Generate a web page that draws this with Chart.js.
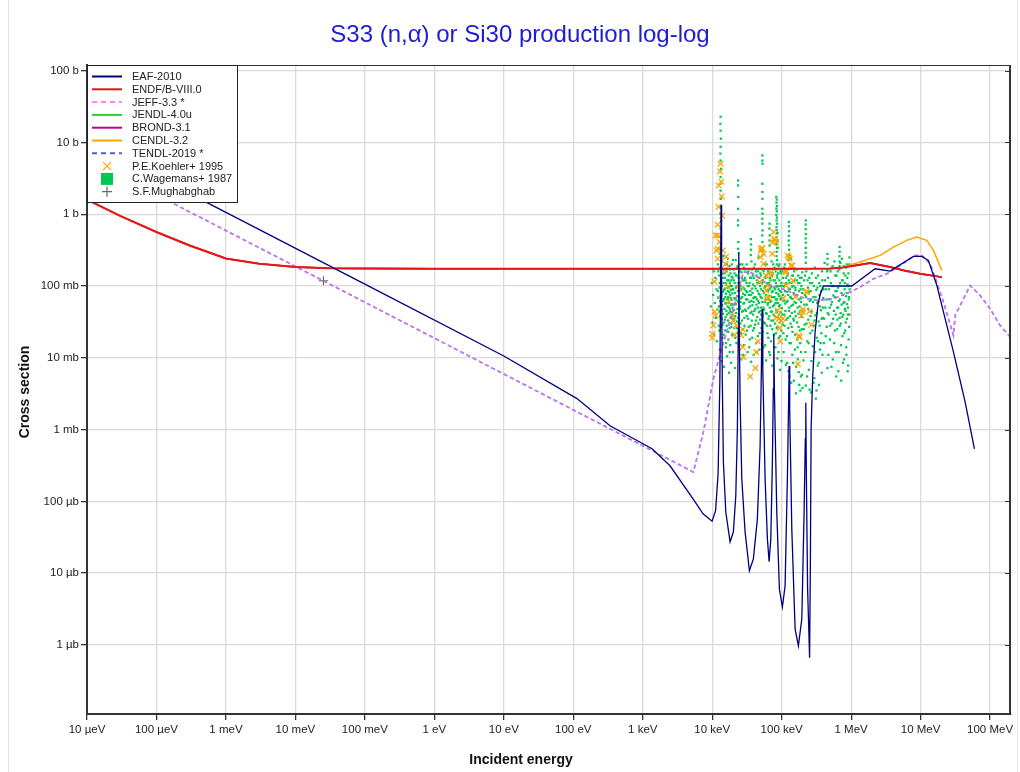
<!DOCTYPE html>
<html>
<head>
<meta charset="utf-8">
<title>S33 (n,α) or Si30 production</title>
<script src="https://cdn.jsdelivr.net/npm/chart.js@4.4.1/dist/chart.umd.min.js"></script>
<style>
  html, body { margin: 0; padding: 0; background: #fff; }
  #wrap { width: 1020px; height: 772px; }
</style>
</head>
<body>
<div id="wrap"><canvas id="xsChart" width="1020" height="772"></canvas></div>
<script>
// energies in eV, cross sections in barns
const eafE = [1e-5, 1e-3, 0.1, 10, 113, 338, 1361, 2470, 5300, 7380, 9950,
  1.118e4, 1.215e4, 1.29e4, 1.32e4, 1.342e4, 1.364e4, 1.396e4, 1.448e4, 1.568e4, 1.808e4,
  2.017e4, 2.184e4, 2.303e4, 2.373e4, 2.413e4, 2.453e4, 2.518e4, 2.665e4, 2.973e4, 3.43e4,
  3.913e4, 4.47e4, 4.89e4, 5.105e4, 5.224e4, 5.347e4, 5.77e4, 6.228e4, 6.59e4, 6.97e4,
  7.35e4, 7.57e4, 7.70e4, 7.85e4, 8.5e4, 9.27e4, 1.024e5, 1.119e5, 1.208e5, 1.253e5,
  1.279e5, 1.304e5, 1.399e5, 1.56e5, 1.74e5, 1.949e5, 2.102e5, 2.188e5, 2.224e5, 2.269e5,
  2.361e5, 2.523e5, 2.591e5, 2.652e5, 2.787e5, 3.028e5, 3.344e5, 3.573e5, 3.987e5, 1.022e6,
  2.213e6, 3.64e6, 7.87e6, 1.04e7, 1.295e7, 1.711e7, 2.966e7, 4.37e7, 5.95e7];
const eafXS = [10.6, 1.06, 0.106, 0.0106, 2.7e-3, 1.13e-3, 5.4e-4, 3.13e-4, 1.08e-4, 6.7e-5, 5.3e-5,
  7.4e-5, 2.42e-4, 5.1e-3, 0.126, 1.35, 0.126, 5.1e-3, 3.56e-4, 7.1e-5, 2.73e-5,
  3.76e-5, 1.19e-4, 1.03e-3, 0.0254, 0.29, 0.0254, 2.68e-3, 2.06e-4, 3.76e-5, 1.08e-5,
  1.58e-5, 5.7e-5, 5.9e-4, 7.0e-3, 0.048, 7.0e-3, 2.06e-4, 3.0e-5, 1.44e-5, 3.0e-5,
  3.56e-4, 3.7e-3, 0.0216, 3.7e-3, 7.1e-5, 6.0e-6, 3.4e-6, 6.6e-6, 2.06e-4, 1.95e-3,
  7.7e-3, 1.95e-3, 4.1e-5, 1.67e-6, 9.7e-7, 2.31e-6, 7.1e-5, 7.4e-4, 2.36e-3, 2.06e-4,
  6.0e-6, 6.6e-7, 1.58e-5, 1.03e-3, 5.1e-3, 0.023, 0.0566, 0.0755, 0.1, 0.1,
  0.174, 0.161, 0.258, 0.258, 0.227, 0.102, 0.0121, 2.44e-3, 5.4e-4];

const endfE = [1e-5, 3e-5, 1e-4, 3e-4, 1e-3, 3e-3, 1e-2, 3e-2, 0.1, 1, 1e3, 1e5, 5e5, 7e5,
  1.2e6, 1.875e6, 3.64e6, 6e6, 9.84e6, 2.02e7];
const endfXS = [1.6, 0.95, 0.565, 0.367, 0.242, 0.205, 0.184, 0.177, 0.175, 0.174, 0.174, 0.174, 0.175, 0.179,
  0.195, 0.209, 0.184, 0.163, 0.148, 0.133];

const cendlE = [1e-5, 3e-5, 1e-4, 3e-4, 1e-3, 3e-3, 1e-2, 3e-2, 0.1, 1, 1e3, 1e5, 5e5, 7e5,
  1.345e6, 2.61e6, 4.06e6, 6.32e6, 8.81e6, 1.228e7, 1.528e7, 2.02e7];
const cendlXS = [1.6, 0.95, 0.565, 0.367, 0.242, 0.205, 0.184, 0.177, 0.175, 0.174, 0.174, 0.174, 0.175, 0.179,
  0.216, 0.267, 0.349, 0.432, 0.481, 0.432, 0.313, 0.165];

// JEFF-3.3 and TENDL-2019 lie on top of each other
const jeffE = [1e-5, 0.0253, 1, 100, 1361, 5360, 7464, 1.04e4, 1.373e4, 2.017e4, 2.81e4, 3.51e4,
  6.11e4, 1.185e5, 1.84e5, 3.2e5, 5.56e5, 9.66e5, 1.345e6, 2.09e6, 3.26e6, 5.07e6, 8.34e6,
  1.04e7, 1.37e7, 1.71e7, 2.13e7, 2.97e7, 3.14e7, 3.71e7, 5.16e7, 7.19e7, 1e8, 1.393e8, 2e8];
const jeffXS = [5.9, 0.118, 0.0188, 1.88e-3, 5.1e-4, 2.56e-4, 9.2e-4, 5.1e-3, 0.0134, 0.048, 0.156, 0.158,
  0.107, 0.0867, 0.0702, 0.063, 0.0664, 0.0824, 0.0966, 0.126, 0.148, 0.193, 0.267,
  0.267, 0.204, 0.1135, 0.0597, 0.0205, 0.0389, 0.0536, 0.102, 0.0738, 0.0482, 0.0282, 0.019];
const tendlE = jeffE;
const tendlXS = jeffXS;

// experimental points: [energy keV, cross section b]
const koehler = [[13.2,5.06],[13.0,3.95],[13.5,2.84],[12.4,2.52],[13.7,1.77],[12.3,1.27],[13.9,0.953],
  [12.0,0.714],[12.0,0.507],[12.7,0.414],[14.2,0.313],[11.6,0.313],[15.9,0.256],[12.0,0.24],[15.5,0.204],
  [15.0,0.165],[10.8,0.115],[16.8,0.0977],[24.7,0.0916],[17.3,0.0603],[10.8,0.0438],[11.2,0.0389],
  [19.4,0.0389],[10.4,0.0282],[19.8,0.0331],[10.1,0.0216],[10.0,0.019],[22.2,0.0282],[27.6,0.0248],
  [26.2,0.0205],[20.9,0.0209],[27.6,0.0141],[28.2,0.0102],[43.0,0.012],[35.3,0.00548],[42.0,0.00718],
  [45.3,0.0169],[50.7,0.313],[52.5,0.338],[54.8,0.281],[54.8,0.204],[49.5,0.253],[48.0,0.1135],
  [58.5,0.14],[63.1,0.102],[59.8,0.0867],[65.3,0.068],[61.1,0.0664],[76.3,0.565],[78.9,0.456],
  [83.5,0.41],[73.1,0.281],[70.7,0.156],[69.1,0.14],[88.0,0.0456],[90.9,0.035],[98.5,0.0331],
  [85.1,0.0369],[93.1,0.0259],[95.3,0.0169],[112,0.16],[122,0.267],[130,0.24],[137,0.193],[116,0.102],
  [106,0.068],[145,0.119],[158,0.0702],[177,0.0205],[171,0.0082],[191,0.0389],[201,0.0471],[230,0.084],
  [252,0.0442],[266,0.0288],[11.2,0.507],[12.0,0.331],[50.7,0.331],[73.1,0.41],[78.9,0.431],[127,0.253],
  [142,0.193],[116,0.156],[225,0.0824],[104,0.035],[181,0.0194],[201,0.0434]];

const wagemans = [
  // tall resonance columns
  [13.2,22.8],[13.1,18.2],[13.2,14.6],[13.3,11.3],[13.2,8.7],[13.1,7.0],[13.2,5.6],[13.3,4.3],[13.2,3.3],
  [13.1,2.66],[13.2,2.13],[13.3,1.64],[13.2,1.27],[13.0,1.02],[13.4,0.81],[13.2,0.63],[13.0,0.486],
  [13.3,0.388],[13.1,0.33],[12.9,0.281],[13.5,0.24],
  [23.6,2.95],[23.6,2.52],[23.7,1.74],[23.6,1.19],[23.5,0.82],[23.6,0.70],[23.7,0.41],[23.6,0.33],
  [36,0.45],[36.2,0.38],[36.1,0.32],[35.9,0.27],
  [52.8,6.6],[52.8,5.6],[53,5.06],[52.6,2.66],[52.9,2.04],[52.8,1.64],[52.7,1.19],[53,1.02],[52.6,0.865],
  [52.8,0.74],[53.1,0.595],[52.5,0.507],[52.9,0.41],[53.2,0.313],[52.4,0.267],
  [67,0.74],[66.5,0.63],[67.2,0.507],[66.8,0.431],[67,0.367],
  [83.5,1.74],[85,1.6],[84,1.45],[85.5,1.3],[84,1.2],[85,1.1],[83.5,0.98],[85.5,0.9],[84.5,0.82],[86,0.74],
  [84,0.66],[85,0.6],[86,0.54],[84.5,0.48],[85.5,0.43],[84,0.38],[86,0.34],[85,0.3],[84.5,0.26],[86,0.23],
  [85,0.2],[87,0.55],[87.5,0.42],[88,0.34],
  [127,0.78],[127,0.68],[128,0.58],[127,0.5],[126,0.43],[127,0.37],[128,0.32],[127,0.27],[126,0.23],
  [222,0.82],[221,0.72],[222,0.62],[223,0.53],[221,0.46],[222,0.4],[222,0.34],[221,0.29],[223,0.25],[222,0.21],
  [455,0.28],[457,0.24],[456,0.2],[458,0.17],
  [680,0.35],[682,0.3],[679,0.26],[681,0.22],[680,0.19],
  // main cloud
  [9.6,0.052],[9.9,0.11],[10.1,0.031],[10.3,0.075],[10.5,0.16],[10.7,0.021],[10.9,0.058],[11.1,0.13],
  [11.3,0.036],[11.5,0.09],[11.7,0.017],[11.9,0.047],[12.1,0.2],[12.2,0.069],[12.4,0.028],
  [12.6,0.14],[12.7,0.044],[12.8,0.095],[12.9,0.013],[13.0,0.18],[13.1,0.062],[13.3,0.027],[13.4,0.12],
  [13.5,0.075],[13.6,0.009],[13.7,0.22],[13.8,0.035],[13.9,0.054],[14.0,0.15],[14.1,0.019],[14.2,0.083],
  [14.3,0.041],[14.4,0.26],[14.5,0.11],[14.6,0.031],[14.7,0.066],[14.8,0.0075],[14.9,0.17],[15.0,0.048],
  [15.1,0.092],[15.2,0.024],[15.3,0.13],[15.4,0.057],[15.5,0.2],[15.6,0.037],[15.7,0.014],[15.8,0.078],
  [15.9,0.105],[16.0,0.045],[16.1,0.16],[16.2,0.028],[16.3,0.065],[16.4,0.0105],[16.5,0.12],[16.6,0.052],
  [16.7,0.085],[16.8,0.24],[16.9,0.033],[17.0,0.07],[17.1,0.018],[17.2,0.14],[17.3,0.042],[17.4,0.098],
  [17.5,0.0062],[17.6,0.058],[17.7,0.19],[17.8,0.026],[17.9,0.11],[18.0,0.047],[18.1,0.075],[18.2,0.015],
  [18.3,0.15],[18.4,0.036],[18.5,0.088],[18.6,0.055],[18.7,0.0085],[18.8,0.12],[18.9,0.03],[19.0,0.064],
  [19.1,0.2],[19.2,0.043],[19.3,0.1],[19.4,0.021],[19.5,0.079],[19.6,0.05],[19.7,0.13],[19.8,0.012],[19.9,0.035],
  [20.1,0.09],[20.3,0.17],[20.5,0.046],[20.7,0.026],[20.9,0.068],[21.1,0.11],[21.3,0.0072],[21.5,0.038],
  [21.7,0.23],[21.9,0.056],[22.1,0.095],[22.3,0.016],[22.5,0.14],[22.7,0.032],[22.9,0.072],[23.1,0.048],
  [23.3,0.19],[23.5,0.022],[23.7,0.11],[23.9,0.06],[24.1,0.29],[24.3,0.04],[24.5,0.085],[24.7,0.013],
  [24.9,0.16],[25.1,0.052],[25.4,0.03],[25.7,0.1],[26.0,0.067],[26.3,0.0095],[26.6,0.13],[26.9,0.044],
  [27.2,0.2],[27.5,0.025],[27.8,0.078],[28.1,0.057],[28.4,0.015],[28.7,0.12],[29.0,0.036],[29.3,0.09],
  [29.6,0.047],[29.9,0.17],
  [30.3,0.021],[30.7,0.065],[31.1,0.11],[31.5,0.038],[31.9,0.082],[32.3,0.012],[32.7,0.15],[33.1,0.049],
  [33.5,0.027],[33.9,0.1],[34.3,0.06],[34.7,0.018],[35.1,0.13],[35.5,0.042],[35.9,0.075],[36.3,0.0088],
  [36.7,0.22],[37.1,0.033],[37.5,0.092],[37.9,0.054],[38.3,0.14],[38.7,0.024],[39.1,0.068],[39.5,0.011],
  [39.9,0.18],[40.4,0.045],[40.9,0.1],[41.4,0.029],[41.9,0.07],[42.4,0.16],[42.9,0.016],[43.4,0.055],
  [43.9,0.12],[44.4,0.037],[44.9,0.085],[45.4,0.02],[45.9,0.062],[46.4,0.25],[46.9,0.043],[47.4,0.11],
  [47.9,0.013],[48.4,0.076],[48.9,0.034],[49.4,0.15],[49.9,0.05],
  [50.5,0.09],[51.2,0.026],[51.9,0.17],[52.6,0.06],[53.3,0.039],[54.0,0.12],[54.7,0.014],[55.4,0.08],
  [56.1,0.047],[56.8,0.2],[57.5,0.03],[58.2,0.1],[58.9,0.066],[59.6,0.0092],[60.3,0.14],[61.0,0.041],
  [61.7,0.088],[62.4,0.022],[63.1,0.058],[63.8,0.16],[64.5,0.035],[65.2,0.11],[65.9,0.012],[66.6,0.073],
  [67.3,0.05],[68.0,0.13],[68.7,0.028],[69.4,0.095],[70.1,0.017],[70.8,0.062],[71.5,0.22],[72.2,0.044],
  [72.9,0.082],[73.6,0.0078],[74.3,0.15],[75.0,0.033],[75.8,0.07],[76.6,0.12],[77.4,0.021],[78.2,0.054],
  [79.0,0.18],[79.8,0.038],[80.6,0.09],[81.4,0.014],[82.2,0.065],[83.0,0.11],[83.8,0.046],[84.6,0.026],
  [85.4,0.14],[86.2,0.058],[87.0,0.0098],[87.8,0.1],[88.6,0.036],[89.4,0.077],[90.2,0.19],[91.0,0.019],
  [91.8,0.052],[92.6,0.12],[93.4,0.031],[94.2,0.085],[95.0,0.0068],[95.8,0.16],[96.6,0.043],[97.4,0.067],
  [98.2,0.024],[99.0,0.11],
  [100.5,0.049],[102,0.16],[103.5,0.029],[105,0.075],[106.5,0.012],[108,0.1],[109.5,0.04],[111,0.2],
  [112.5,0.057],[114,0.018],[115.5,0.13],[117,0.034],[118.5,0.083],[120,0.0085],[121.5,0.062],[123,0.15],
  [124.5,0.026],[126,0.092],[127.5,0.045],[129,0.0055],[130.5,0.11],[132,0.038],[133.5,0.07],[135,0.016],
  [136.5,0.24],[138,0.053],[139.5,0.027],[141,0.098],[142.5,0.011],[144,0.066],[145.5,0.14],[147,0.035],
  [148.5,0.08],[150,0.0048],[152,0.12],[154,0.044],[156,0.021],[158,0.088],[160,0.058],[162,0.0075],
  [164,0.17],[166,0.031],[168,0.074],[170,0.014],[172,0.11],[174,0.041],[176,0.0063],[178,0.085],
  [180,0.052],[182,0.024],[184,0.13],[186,0.0035],[188,0.067],[190,0.012],[192,0.1],[194,0.037],
  [196,0.0058],[198,0.155],
  [202,0.047],[206,0.0092],[210,0.12],[214,0.029],[218,0.075],[222,0.0041],[226,0.16],[230,0.055],
  [234,0.017],[238,0.095],[242,0.034],[246,0.0068],[250,0.13],[254,0.062],[258,0.022],[262,0.085],
  [266,0.0033],[270,0.044],[275,0.11],[280,0.0145],[285,0.07],[290,0.028],[295,0.0052],[300,0.18],
  [305,0.039],[310,0.0027],[315,0.088],[320,0.019],[325,0.058],[330,0.0078],[335,0.14],[340,0.032],
  [345,0.0042],[350,0.075],[355,0.013],[360,0.1],[366,0.046],[372,0.022],[378,0.0062],[384,0.12],
  [390,0.036],[396,0.068],
  [405,0.016],[415,0.21],[425,0.05],[435,0.09],[445,0.027],[455,0.0072],[465,0.13],[475,0.04],
  [485,0.065],[495,0.018],[505,0.16],[515,0.055],[525,0.03],[535,0.1],[545,0.0095],[555,0.074],
  [565,0.045],[575,0.22],[585,0.024],[595,0.085],[605,0.012],[615,0.14],[625,0.05],[635,0.034],
  [645,0.095],[655,0.0065],[665,0.062],[675,0.17],[685,0.028],[695,0.11],[705,0.042],[715,0.015],
  [725,0.08],[735,0.24],[745,0.037],[755,0.12],[765,0.0085],[775,0.058],[785,0.19],[795,0.022],
  [805,0.09],[815,0.048],[825,0.14],[835,0.031],[845,0.072],[855,0.011],[865,0.2],[875,0.056],
  [885,0.105],[895,0.04],[905,0.0078],[915,0.15],[925,0.065],[935,0.027],[945,0.25],[950,0.09],
  // second pass through the cloud
  [12.05,0.085],[12.25,0.16],[12.45,0.052],[12.65,0.024],[12.85,0.11],[13.05,0.038],[13.25,0.072],[13.45,0.17],
  [13.65,0.046],[13.85,0.1],[14.05,0.029],[14.25,0.13],[14.45,0.062],[14.65,0.021],[14.85,0.088],[15.05,0.15],
  [15.25,0.034],[15.45,0.07],[15.65,0.11],[15.85,0.016],[16.05,0.058],[16.25,0.2],[16.45,0.04],[16.65,0.095],
  [16.85,0.065],[17.05,0.023],[17.25,0.12],[17.45,0.05],[17.65,0.082],[17.85,0.012],[18.05,0.17],[18.25,0.044],
  [18.45,0.068],[18.65,0.1],[18.85,0.027],[19.05,0.135],[19.25,0.056],[19.45,0.039],[19.65,0.09],[19.85,0.23],
  [20.2,0.055],[20.45,0.12],[20.7,0.034],[20.95,0.15],[21.2,0.08],[21.45,0.019],[21.7,0.065],[21.95,0.14],
  [22.2,0.042],[22.45,0.1],[22.7,0.026],[22.95,0.18],[23.2,0.062],[23.45,0.085],[23.7,0.036],[23.95,0.13],
  [24.2,0.017],[24.45,0.072],[24.7,0.11],[24.95,0.048],[25.25,0.2],[25.55,0.06],[25.85,0.022],[26.15,0.09],
  [26.45,0.155],[26.75,0.033],[27.05,0.07],[27.35,0.12],[27.65,0.045],[27.95,0.011],[28.25,0.095],[28.55,0.18],
  [28.85,0.058],[29.15,0.028],[29.45,0.13],[29.75,0.075],
  [30.1,0.12],[30.5,0.045],[30.9,0.085],[31.3,0.2],[31.7,0.024],[32.1,0.065],[32.5,0.1],[32.9,0.035],
  [33.3,0.16],[33.7,0.075],[34.1,0.014],[34.5,0.11],[34.9,0.052],[35.3,0.085],[35.7,0.028],[36.1,0.13],
  [36.5,0.062],[36.9,0.044],[37.3,0.17],[37.7,0.019],[38.1,0.08],[38.5,0.105],[38.9,0.04],[39.3,0.06],
  [39.7,0.13],[40.2,0.026],[40.7,0.07],[41.2,0.2],[41.7,0.048],[42.2,0.092],[42.7,0.033],[43.2,0.14],
  [43.7,0.066],[44.2,0.012],[44.7,0.11],[45.2,0.05],[45.7,0.16],[46.2,0.03],[46.7,0.078],[47.2,0.058],
  [47.7,0.13],[48.2,0.022],[48.7,0.1],[49.2,0.045],[49.7,0.07],
  [50.2,0.14],[50.9,0.04],[51.6,0.068],[52.3,0.11],[53.0,0.023],[53.7,0.085],[54.4,0.05],[55.1,0.16],
  [55.8,0.031],[56.5,0.095],[57.2,0.06],[57.9,0.015],[58.6,0.13],[59.3,0.042],[60.0,0.075],[60.7,0.2],
  [61.4,0.028],[62.1,0.11],[62.8,0.055],[63.5,0.085],[64.2,0.019],[64.9,0.065],[65.6,0.15],[66.3,0.038],
  [67.0,0.09],[67.7,0.011],[68.4,0.06],[69.1,0.12],[69.8,0.044],[70.5,0.1],[71.2,0.033],[71.9,0.07],
  [72.6,0.14],[73.3,0.025],[74.0,0.085],[74.7,0.052],[75.4,0.2],[76.2,0.04],[77.0,0.095],[77.8,0.014],
  [78.6,0.07],[79.4,0.12],[80.2,0.03],[81.0,0.058],[81.8,0.16],[82.6,0.022],[83.4,0.08],[84.2,0.1],
  [85.0,0.043],[85.8,0.065],[86.6,0.13],[87.4,0.027],[88.2,0.058],[89.0,0.15],[89.8,0.012],[90.6,0.09],
  [91.4,0.04],[92.2,0.072],[93.0,0.2],[93.8,0.054],[94.6,0.02],[95.4,0.1],[96.2,0.065],[97.0,0.15],
  [97.8,0.037],[98.6,0.083],[99.4,0.009],
  [101,0.1],[102.8,0.04],[104.2,0.13],[105.8,0.022],[107.2,0.062],[108.8,0.18],[110.2,0.028],[111.8,0.085],
  [113.2,0.045],[114.8,0.008],[116.2,0.11],[117.8,0.06],[119.2,0.02],[120.8,0.14],[122.2,0.036],[123.8,0.075],
  [125.2,0.0065],[126.8,0.12],[128.2,0.05],[129.8,0.016],[131.2,0.09],[132.8,0.2],[134.2,0.03],[135.8,0.068],
  [137.2,0.0045],[138.8,0.11],[140.2,0.042],[141.8,0.14],[143.2,0.023],[144.8,0.055],[146.2,0.0085],[147.8,0.1],
  [149.2,0.033],[151,0.16],[153,0.06],[155,0.013],[157,0.095],[159,0.038],[161,0.0032],[163,0.075],
  [165,0.12],[167,0.018],[169,0.05],[171,0.0095],[173,0.14],[175,0.027],[177,0.065],[179,0.0042],
  [181,0.11],[183,0.044],[185,0.016],[187,0.09],[189,0.0055],[191,0.06],[193,0.13],[195,0.025],
  [197,0.08],[199,0.0038],
  [204,0.09],[208,0.025],[212,0.055],[216,0.14],[220,0.012],[224,0.07],[228,0.03],[232,0.0055],
  [236,0.12],[240,0.048],[244,0.016],[248,0.082],[252,0.0036],[256,0.11],[260,0.038],[264,0.065],
  [268,0.009],[272,0.15],[277,0.024],[282,0.06],[287,0.0045],[292,0.1],[297,0.033],[302,0.012],
  [307,0.07],[312,0.13],[317,0.0035],[322,0.042],[327,0.095],[332,0.017],[337,0.06],[342,0.0085],
  [347,0.11],[352,0.028],[357,0.052],[363,0.016],[369,0.085],[375,0.035],[381,0.16],[387,0.011],
  [393,0.05],[399,0.09],
  [410,0.035],[420,0.12],[430,0.02],[440,0.065],[450,0.16],[460,0.042],[470,0.011],[480,0.09],
  [490,0.05],[500,0.028],[510,0.11],[520,0.0075],[530,0.06],[540,0.19],[550,0.035],[560,0.1],
  [570,0.016],[580,0.07],[590,0.14],[600,0.04],[610,0.0055],[620,0.085],[630,0.025],[640,0.16],
  [650,0.05],[660,0.012],[670,0.1],[680,0.036],[690,0.065],[700,0.21],[710,0.03],[720,0.0048],
  [730,0.055],[740,0.12],[750,0.02],[760,0.075],[770,0.04],[780,0.15],[790,0.0095],[800,0.06],
  [810,0.11],[820,0.024],[830,0.045],[840,0.18],[850,0.014],[860,0.08],[870,0.035],[880,0.13],
  [890,0.0065],[900,0.05],[910,0.1],[920,0.018],[930,0.07],[940,0.2],[948,0.04]
];

const mughabghab = [[0.0253, 0.118]]; // eV, b

const xTickValues = [1e-5, 1e-4, 1e-3, 1e-2, 1e-1, 1, 10, 100, 1e3, 1e4, 1e5, 1e6, 1e7, 1e8];
const xTickLabels = ['10 µeV', '100 µeV', '1 meV', '10 meV', '100 meV', '1 eV', '10 eV', '100 eV',
  '1 keV', '10 keV', '100 keV', '1 MeV', '10 MeV', '100 MeV'];
const yTickValues = [1e-6, 1e-5, 1e-4, 1e-3, 1e-2, 1e-1, 1, 10, 100];
const yTickLabels = ['1 µb', '10 µb', '100 µb', '1 mb', '10 mb', '100 mb', '1 b', '10 b', '100 b'];

const FONT = '"Liberation Sans", Arial, Helvetica, sans-serif';

function toPoints(es, xs) {
  return es.map((e, i) => ({ x: e, y: xs[i] }));
}

function pairPoints(list, scale) {
  return list.map(p => ({ x: p[0] * scale, y: p[1] }));
}

function lineSet(label, es, xs, color, width, order, extra) {
  return Object.assign({
    label: label,
    data: toPoints(es, xs),
    showLine: true,
    borderColor: color,
    backgroundColor: color,
    borderWidth: width,
    pointRadius: 0,
    order: order,
    legendColor: color,
    legendKind: 'line'
  }, extra || {});
}

// draws frame, titles and the boxed legend in the upper left corner
const decorPlugin = {
  id: 'decor',
  afterDraw(chart) {
    const ctx = chart.ctx;
    const a = chart.chartArea;
    ctx.save();

    // faint page edges
    ctx.strokeStyle = '#e4e4e4';
    ctx.lineWidth = 1;
    ctx.beginPath();
    ctx.moveTo(8.5, 0); ctx.lineTo(8.5, chart.height);
    ctx.moveTo(1017.5, 0); ctx.lineTo(1017.5, chart.height);
    ctx.stroke();

    ctx.strokeStyle = '#333';
    ctx.lineWidth = 1;
    ctx.beginPath();
    ctx.moveTo(a.left, a.top + 0.5);
    ctx.lineTo(a.right, a.top + 0.5);
    ctx.stroke();
    ctx.lineWidth = 2;
    ctx.beginPath();
    ctx.moveTo(a.right - 1, a.top);
    ctx.lineTo(a.right - 1, a.bottom);
    ctx.stroke();
    ctx.lineWidth = 1;
    const ys = chart.scales.y;
    yTickValues.forEach(v => {
      const py = Math.round(ys.getPixelForValue(v)) + 0.5;
      ctx.beginPath();
      ctx.moveTo(a.right - 6, py);
      ctx.lineTo(a.right, py);
      ctx.stroke();
    });

    // chart title and axis titles
    ctx.fillStyle = '#1c1cd4';
    ctx.font = '24px ' + FONT;
    ctx.textAlign = 'center';
    ctx.textBaseline = 'alphabetic';
    ctx.fillText('S33 (n,α) or Si30 production log-log', 520, 42);

    ctx.fillStyle = '#111';
    ctx.font = 'bold 14px ' + FONT;
    ctx.fillText('Incident energy', 521, 764);
    ctx.save();
    ctx.translate(25, 392);
    ctx.rotate(-Math.PI / 2);
    ctx.textBaseline = 'middle';
    ctx.fillText('Cross section', 0, 0);
    ctx.restore();

    // legend
    const bx = 87, by = 65, bw = 150, bh = 137;
    ctx.fillStyle = '#fff';
    ctx.fillRect(bx, by, bw, bh);
    ctx.strokeStyle = '#222';
    ctx.lineWidth = 1;
    ctx.strokeRect(bx + 0.5, by + 0.5, bw, bh);

    ctx.font = '11px ' + FONT;
    ctx.textAlign = 'left';
    ctx.textBaseline = 'middle';
    chart.data.datasets.forEach((ds, i) => {
      const y = 76.5 + i * 12.8;
      const cx = 107;
      ctx.strokeStyle = ds.legendColor;
      ctx.fillStyle = ds.legendColor;
      if (ds.legendKind === 'line' || ds.legendKind === 'dash') {
        ctx.lineWidth = 2;
        ctx.setLineDash(ds.legendKind === 'dash' ? [5, 4] : []);
        ctx.beginPath();
        ctx.moveTo(92, y);
        ctx.lineTo(122, y);
        ctx.stroke();
        ctx.setLineDash([]);
      } else if (ds.legendKind === 'x') {
        ctx.lineWidth = 1.3;
        ctx.beginPath();
        ctx.moveTo(cx - 4, y - 4); ctx.lineTo(cx + 4, y + 4);
        ctx.moveTo(cx - 4, y + 4); ctx.lineTo(cx + 4, y - 4);
        ctx.stroke();
      } else if (ds.legendKind === 'square') {
        ctx.fillRect(cx - 6, y - 6, 12, 12);
      } else if (ds.legendKind === 'plus') {
        ctx.lineWidth = 1.2;
        ctx.beginPath();
        ctx.moveTo(cx - 5, y); ctx.lineTo(cx + 5, y);
        ctx.moveTo(cx, y - 5); ctx.lineTo(cx, y + 5);
        ctx.stroke();
      }
      ctx.fillStyle = '#222';
      ctx.fillText(ds.label, 132, y + 0.5);
    });
    ctx.restore();
  }
};

const datasets = [
  lineSet('EAF-2010', eafE, eafXS, '#000080', 1.3, 1),
  lineSet('ENDF/B-VIII.0', endfE, endfXS, '#e8141c', 2, 2),
  lineSet('JEFF-3.3 *', jeffE, jeffXS, 'rgba(255,115,255,0.75)', 1.5, 3,
    { borderDash: [4, 3], legendColor: '#ff80ff', legendKind: 'dash' }),
  lineSet('JENDL-4.0u', endfE, endfXS, '#33cc33', 1.4, 7),
  lineSet('BROND-3.1', endfE, endfXS, '#c0008c', 1.4, 6),
  lineSet('CENDL-3.2', cendlE, cendlXS, '#ffa500', 1.5, 5),
  lineSet('TENDL-2019 *', tendlE, tendlXS, '#4a5fe0', 1.5, 4,
    { borderDash: [4, 3], legendKind: 'dash' }),
  {
    label: 'P.E.Koehler+ 1995',
    data: pairPoints(koehler, 1e3),
    showLine: false,
    pointStyle: 'crossRot',
    pointRadius: 4,
    borderColor: '#ffa500',
    backgroundColor: '#ffa500',
    pointBorderWidth: 1.3,
    order: 8,
    legendColor: '#ffa500',
    legendKind: 'x'
  },
  {
    label: 'C.Wagemans+ 1987',
    data: pairPoints(wagemans, 1e3),
    showLine: false,
    pointStyle: 'rect',
    pointRadius: 1.6,
    pointBorderWidth: 0,
    borderColor: '#00c850',
    backgroundColor: '#00c850',
    order: 10,
    legendColor: '#00c853',
    legendKind: 'square'
  },
  {
    label: 'S.F.Mughabghab',
    data: pairPoints(mughabghab, 1),
    showLine: false,
    pointStyle: 'cross',
    pointRadius: 4.5,
    pointBorderWidth: 1,
    borderColor: '#555',
    backgroundColor: '#555',
    order: 8,
    legendColor: '#666',
    legendKind: 'plus'
  }
];

const ctx = document.getElementById('xsChart').getContext('2d');
new Chart(ctx, {
  type: 'scatter',
  data: { datasets: datasets },
  options: {
    responsive: false,
    animation: false,
    events: [],
    layout: { padding: { top: 65, right: 9, left: 0, bottom: 0 } },
    plugins: {
      legend: { display: false },
      title: { display: false },
      tooltip: { enabled: false }
    },
    scales: {
      x: {
        type: 'logarithmic',
        position: 'bottom',
        min: 1e-5,
        max: 2e8,
        afterBuildTicks: (scale) => { scale.ticks = xTickValues.map(v => ({ value: v })); },
        afterFit: (scale) => { scale.height = 58; },
        ticks: {
          autoSkip: false,
          maxRotation: 0,
          minRotation: 0,
          padding: 3,
          color: '#222',
          font: { family: FONT, size: 11.5 },
          callback: (v, i) => xTickLabels[i]
        },
        grid: { color: '#dadada', lineWidth: 1.3, tickColor: '#333', tickLength: 6 },
        border: { color: '#333', width: 2 }
      },
      y: {
        type: 'logarithmic',
        position: 'left',
        min: 1.09e-7,
        max: 120,
        afterBuildTicks: (scale) => { scale.ticks = yTickValues.map(v => ({ value: v })); },
        afterFit: (scale) => { scale.width = 87; },
        ticks: {
          autoSkip: false,
          padding: 2,
          color: '#222',
          font: { family: FONT, size: 11.5 },
          callback: (v, i) => yTickLabels[i]
        },
        grid: { color: '#dadada', lineWidth: 1.3, tickColor: '#333', tickLength: 6 },
        border: { color: '#333', width: 2 }
      }
    }
  },
  plugins: [decorPlugin]
});
</script>
</body>
</html>
